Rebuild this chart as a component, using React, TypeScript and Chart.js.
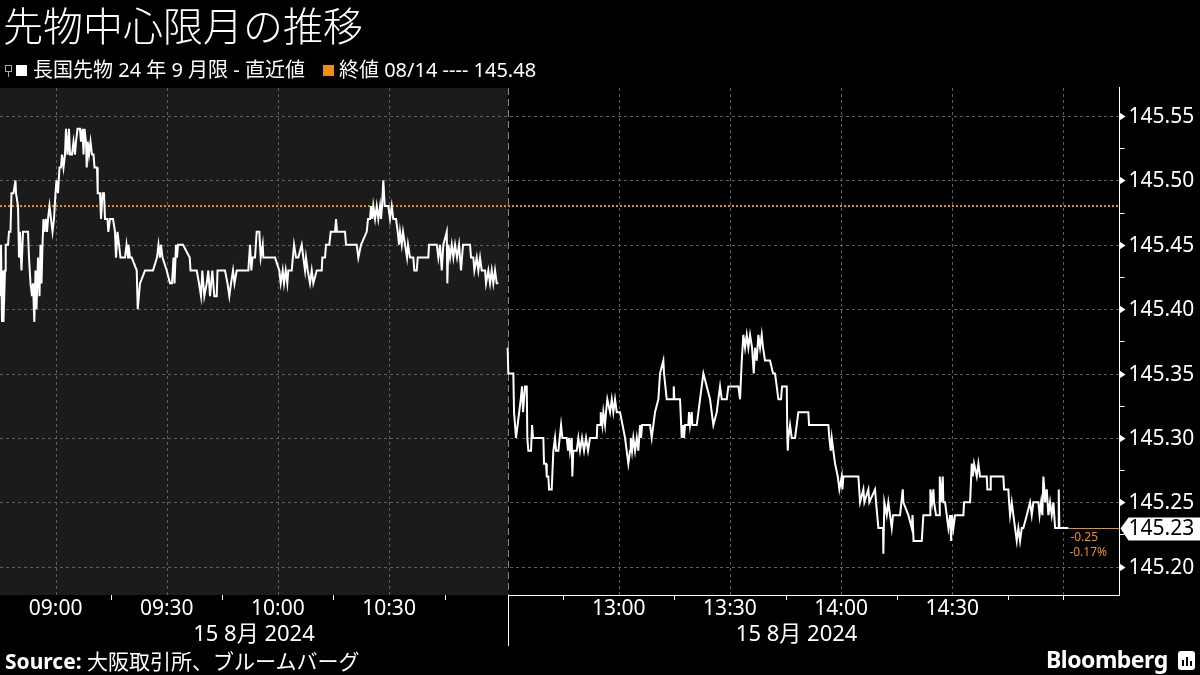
import React, { useEffect, useRef } from "react";
import { Chart, registerables } from "chart.js";

Chart.register(...registerables);

// ---- data ----
// morning session: minutes after 08:45 (session runs to 11:02)
const amMinutes = [
  0.0, 0.13, 0.27, 0.54, 0.81, 0.94, 1.35, 1.54, 2.16, 2.43, 2.83, 3.1, 3.64, 4.18, 4.32, 4.86, 5.13, 5.4, 5.8, 6.21,
  7.56, 7.83, 8.23, 8.64, 8.91, 9.26, 9.58, 9.85, 10.26, 10.66, 10.93, 11.2, 11.47, 11.74, 12.01, 12.42, 12.69, 12.96,
  13.36, 13.76, 14.17, 14.57, 14.98, 15.25, 15.65, 16.06, 16.46, 16.73, 17.14, 17.54, 17.81, 18.22, 18.62, 18.89,
  19.43, 19.84, 20.24, 20.51, 20.92, 21.59, 21.86, 22.27, 22.54, 22.81, 23.21, 23.4, 23.67, 24.02, 24.43, 24.83,
  25.24, 25.51, 26.18, 26.37, 26.99, 27.26, 27.67, 28.07, 28.34, 29.01, 29.23, 29.69, 30.5, 31.04, 31.31, 31.71,
  32.12, 32.52, 33.74, 34.14, 34.55, 34.68, 35.09, 35.55, 36.9, 37.17, 37.79, 39.14, 41.29, 42.37, 42.78, 43.18,
  43.45, 43.86, 44.99, 45.88, 46.42, 46.83, 47.1, 47.5, 47.77, 48.04, 49.39, 51.2, 51.42, 53.09, 53.71, 54.25, 54.6,
  55.14, 55.79, 56.22, 56.68, 57.3, 57.84, 58.49, 58.7, 60.73, 61.4, 61.89, 62.35, 62.89, 63.29, 63.89, 67.02, 67.48,
  67.83, 68.15, 68.82, 69.28, 69.99, 70.36, 70.9, 71.07, 74.22, 75.38, 75.76, 76.3, 76.65, 77.11, 77.54, 77.81, 78.73,
  79.35, 79.89, 80.51, 81.43, 81.86, 82.32, 82.59, 83.05, 83.67, 84.13, 84.56, 85.48, 86.83, 86.99, 87.72, 87.99,
  88.88, 89.26, 90.42, 90.69, 90.96, 93.12, 93.39, 96.27, 96.71, 97.43, 98.97, 99.32, 99.87, 100.13, 100.49, 100.75,
  101.22, 101.67, 102.1, 102.57, 102.83, 103.1, 103.45, 103.83, 104.8, 105.26, 105.72, 106.15, 106.88, 107.34,
  107.69, 107.96, 108.42, 108.77, 109.31, 109.85, 110.12, 110.66, 111.55, 111.82, 112.47, 112.74, 115.6, 115.79,
  117.87, 118.3, 118.76, 119.22, 119.65, 120.57, 120.73, 121.0, 121.46, 121.92, 122.35, 122.81, 123.35, 123.89,
  124.42, 124.96, 126.86, 127.12, 127.75, 128.02, 128.66, 129.1, 129.56, 130.01, 130.91, 131.17, 131.79, 132.26,
  132.71, 133.14, 133.6, 134.06, 134.49,
];
const amPrices = [
  145.44, 145.41, 145.45, 145.39, 145.43, 145.39, 145.43, 145.45, 145.45, 145.46, 145.46, 145.49, 145.49, 145.5,
  145.49, 145.48, 145.44, 145.46, 145.43, 145.46, 145.46, 145.44, 145.42, 145.41, 145.42, 145.39, 145.43, 145.4,
  145.44, 145.41, 145.45, 145.42, 145.45, 145.47, 145.46, 145.47, 145.46, 145.47, 145.48, 145.47, 145.46, 145.47,
  145.49, 145.5, 145.49, 145.51, 145.51, 145.52, 145.51, 145.52, 145.54, 145.52, 145.54, 145.52, 145.52, 145.53,
  145.52, 145.53, 145.54, 145.54, 145.53, 145.54, 145.52, 145.54, 145.53, 145.51, 145.53, 145.52, 145.53, 145.52,
  145.52, 145.51, 145.51, 145.49, 145.49, 145.47, 145.49, 145.49, 145.47, 145.47, 145.46, 145.47, 145.47, 145.46,
  145.44, 145.46, 145.45, 145.44, 145.44, 145.45, 145.44, 145.45, 145.44, 145.44, 145.43, 145.4, 145.42, 145.43,
  145.43, 145.44, 145.45, 145.44, 145.45, 145.44, 145.43, 145.42, 145.42, 145.44, 145.42, 145.45, 145.44, 145.45,
  145.45, 145.44, 145.43, 145.43, 145.42, 145.41, 145.43, 145.41, 145.42, 145.43, 145.41, 145.43, 145.41, 145.41,
  145.43, 145.43, 145.42, 145.41, 145.42, 145.43, 145.42, 145.43, 145.43, 145.45, 145.43, 145.44, 145.44, 145.46,
  145.46, 145.44, 145.45, 145.44, 145.44, 145.43, 145.42, 145.43, 145.42, 145.43, 145.42, 145.43, 145.43, 145.45,
  145.44, 145.44, 145.45, 145.44, 145.43, 145.44, 145.43, 145.42, 145.43, 145.42, 145.43, 145.43, 145.44, 145.44,
  145.45, 145.45, 145.46, 145.46, 145.47, 145.46, 145.46, 145.45, 145.45, 145.44, 145.45, 145.46, 145.47, 145.47,
  145.48, 145.47, 145.48, 145.47, 145.48, 145.47, 145.48, 145.47, 145.48, 145.5, 145.48, 145.48, 145.47, 145.48,
  145.47, 145.47, 145.46, 145.45, 145.46, 145.45, 145.46, 145.45, 145.44, 145.45, 145.44, 145.44, 145.43, 145.43,
  145.44, 145.44, 145.45, 145.45, 145.44, 145.45, 145.43, 145.45, 145.46, 145.42, 145.45, 145.44, 145.45, 145.44,
  145.45, 145.44, 145.45, 145.43, 145.45, 145.45, 145.44, 145.44, 145.43, 145.44, 145.43, 145.44, 145.43, 145.43,
  145.42, 145.43, 145.42, 145.43, 145.42, 145.43, 145.42, 145.42,
];
// afternoon session: minutes after 12:30 (session runs to 15:02)
const pmMinutes = [
  0.0, 0.19, 1.54, 1.73, 2.27, 3.54, 3.89, 4.16, 4.7, 5.16, 5.32, 5.59, 6.32, 6.59, 6.86, 9.64, 9.83, 10.37, 10.56,
  10.99, 11.18, 11.9, 12.34, 12.79, 13.06, 13.69, 14.42, 14.77, 15.95, 16.3, 16.57, 16.84, 17.3, 17.46, 17.73, 18.65,
  19.09, 19.54, 20.08, 20.62, 21.16, 21.7, 22.24, 24.05, 24.21, 24.94, 25.13, 25.56, 25.83, 26.29, 26.56, 26.91,
  27.64, 28.1, 28.53, 28.99, 29.45, 30.34, 31.69, 32.58, 33.04, 33.23, 33.58, 33.93, 34.39, 34.85, 35.28, 35.74,
  36.01, 36.28, 38.44, 38.89, 39.78, 40.68, 41.13, 42.03, 42.21, 42.94, 44.73, 44.83, 45.0, 46.53, 46.99, 47.34,
  47.61, 47.88, 48.77, 48.96, 49.23, 49.69, 49.85, 51.04, 51.93, 52.83, 53.74, 54.63, 55.52, 56.44, 56.87, 57.33,
  57.79, 59.14, 59.57, 62.27, 62.73, 63.19, 63.62, 64.08, 64.53, 64.97, 65.43, 65.97, 66.42, 66.78, 67.23, 67.67,
  68.13, 68.58, 68.93, 69.47, 70.82, 71.63, 72.17, 72.63, 73.06, 73.79, 74.06, 75.33, 75.49, 75.6, 75.76, 76.22,
  76.68, 77.57, 78.46, 81.16, 81.35, 86.56, 86.83, 87.21, 87.48, 87.91, 88.37, 89.1, 89.53, 90.17, 90.34, 90.61,
  94.66, 95.12, 96.01, 96.28, 97.36, 97.62, 99.16, 99.43, 100.06, 101.32, 101.4, 101.67, 102.32, 102.75, 103.21,
  103.67, 104.02, 105.91, 106.64, 106.8, 108.15, 109.07, 109.28, 109.55, 111.77, 112.2, 114.01, 114.09, 114.55,
  114.9, 115.09, 115.63, 116.44, 116.63, 116.97, 117.43, 117.6, 118.06, 118.95, 119.41, 119.68, 119.95, 120.3,
  120.76, 123.0, 123.19, 124.81, 125.26, 125.53, 125.88, 126.61, 127.05, 127.5, 129.31, 129.47, 130.2, 130.39,
  133.79, 133.98, 135.14, 135.33, 135.6, 136.06, 136.49, 136.95, 137.41, 137.84, 138.3, 138.76, 139.19, 140.11,
  141.0, 141.45, 141.89, 143.24, 143.56, 143.97, 144.32, 144.59, 144.86, 145.05, 145.51, 145.94, 146.4, 146.85,
  147.29, 147.75, 148.64, 148.74, 148.91, 151.34,
];
const pmPrices = [
  145.37, 145.35, 145.35, 145.32, 145.3, 145.33, 145.34, 145.32, 145.34, 145.34, 145.3, 145.29, 145.29, 145.31,
  145.3, 145.3, 145.28, 145.28, 145.27, 145.27, 145.26, 145.26, 145.29, 145.3, 145.29, 145.29, 145.31, 145.3,
  145.3, 145.29, 145.3, 145.29, 145.3, 145.27, 145.29, 145.29, 145.3, 145.29, 145.3, 145.29, 145.3, 145.29, 145.3,
  145.3, 145.31, 145.31, 145.32, 145.31, 145.32, 145.31, 145.32, 145.33, 145.32, 145.33, 145.32, 145.33, 145.32,
  145.32, 145.3, 145.28, 145.29, 145.3, 145.29, 145.3, 145.29, 145.3, 145.29, 145.31, 145.3, 145.31, 145.31,
  145.3, 145.32, 145.33, 145.35, 145.36, 145.35, 145.33, 145.33, 145.34, 145.33, 145.33, 145.3, 145.31, 145.3,
  145.31, 145.31, 145.32, 145.31, 145.32, 145.31, 145.31, 145.33, 145.35, 145.34, 145.33, 145.31, 145.32, 145.33,
  145.34, 145.33, 145.33, 145.34, 145.34, 145.33, 145.36, 145.38, 145.37, 145.38, 145.37, 145.38, 145.37, 145.35,
  145.37, 145.36, 145.38, 145.37, 145.38, 145.37, 145.36, 145.36, 145.35, 145.35, 145.34, 145.33, 145.33, 145.34,
  145.34, 145.3, 145.29, 145.3, 145.31, 145.3, 145.3, 145.32, 145.32, 145.31, 145.31, 145.3, 145.29, 145.3, 145.29,
  145.28, 145.27, 145.26, 145.27, 145.26, 145.27, 145.27, 145.25, 145.26, 145.25, 145.26, 145.25, 145.26, 145.25,
  145.23, 145.23, 145.21, 145.25, 145.24, 145.25, 145.24, 145.23, 145.24, 145.24, 145.26, 145.25, 145.24, 145.23,
  145.24, 145.22, 145.22, 145.24, 145.24, 145.26, 145.25, 145.26, 145.25, 145.24, 145.24, 145.27, 145.25, 145.27,
  145.25, 145.25, 145.23, 145.24, 145.22, 145.24, 145.23, 145.24, 145.24, 145.25, 145.25, 145.28, 145.27, 145.28,
  145.27, 145.28, 145.27, 145.27, 145.26, 145.26, 145.27, 145.27, 145.26, 145.26, 145.25, 145.24, 145.25, 145.24,
  145.23, 145.22, 145.23, 145.22, 145.23, 145.23, 145.24, 145.25, 145.24, 145.25, 145.25, 145.24, 145.25, 145.24,
  145.27, 145.26, 145.25, 145.26, 145.24, 145.25, 145.24, 145.25, 145.23, 145.23, 145.26, 145.23, 145.23,
];

const prevClose = 145.48;
const lastPrice = 145.23;
const changeText = "-0.25";
const changePctText = "-0.17%";

const yTicks = [145.2, 145.25, 145.3, 145.35, 145.4, 145.45, 145.5, 145.55];
const yMin = 145.178;
const yMax = 145.5717;

// compressed time axis: minutes after 08:45 with the lunch break removed
const morningLength = 137; // 08:45–11:02, afternoon starts at 12:30
const xMaxMinutes = 302;
const xLabelMinutes = [15, 45, 75, 105, 167, 197, 227, 257];
const xLabels = ["09:00", "09:30", "10:00", "10:30", "13:00", "13:30", "14:00", "14:30"];
const xGridMinutes = [15, 45, 75, 105, 167, 197, 227, 257, 287];
const xMinorTickMinutes = [30, 60, 90, 120, 152, 182, 212, 242, 272, 287];
const dateLabel = "15 8月 2024";

const ORANGE = "#f0900a";
const FONT = '"Noto Sans", "Noto Sans CJK JP", sans-serif';

const decorPlugin = {
  id: "decor",
  beforeDraw(chart: any) {
    const { ctx, chartArea: a, scales } = chart;
    const x = scales.x;
    const y = scales.y;
    ctx.save();
    ctx.fillStyle = "#000";
    ctx.fillRect(0, 0, chart.width, chart.height);
    const sep = Math.round(x.getPixelForValue(morningLength));
    ctx.fillStyle = "#1b1b1b";
    ctx.fillRect(a.left, a.top, sep - a.left, a.bottom - a.top);

    ctx.strokeStyle = "#5e5e5e";
    ctx.lineWidth = 1;
    ctx.setLineDash([3, 3]);
    yTicks.forEach((v) => {
      const py = Math.round(y.getPixelForValue(v)) + 0.5;
      ctx.beginPath();
      ctx.moveTo(a.left, py);
      ctx.lineTo(a.right, py);
      ctx.stroke();
    });
    xGridMinutes.forEach((m) => {
      const px = Math.round(x.getPixelForValue(m)) + 0.5;
      ctx.beginPath();
      ctx.moveTo(px, a.top);
      ctx.lineTo(px, a.bottom);
      ctx.stroke();
    });
    // session separator
    ctx.strokeStyle = "#8a8a8a";
    ctx.setLineDash([7, 4]);
    ctx.beginPath();
    ctx.moveTo(sep + 0.5, a.top);
    ctx.lineTo(sep + 0.5, a.bottom);
    ctx.stroke();
    ctx.restore();
  },
  afterDraw(chart: any) {
    const { ctx, chartArea: a, scales } = chart;
    const x = scales.x;
    const y = scales.y;
    ctx.save();
    const ax = Math.round(a.right) + 0.5;
    const sep = Math.round(x.getPixelForValue(morningLength));

    // last value connector
    const lastX = x.getPixelForValue(morningLength + pmMinutes[pmMinutes.length - 1]);
    const ly = Math.round(y.getPixelForValue(lastPrice)) + 0.5;
    ctx.strokeStyle = ORANGE;
    ctx.lineWidth = 1;
    ctx.beginPath();
    ctx.moveTo(lastX, ly);
    ctx.lineTo(ax, ly);
    ctx.stroke();
    ctx.fillStyle = ORANGE;
    ctx.font = `12px ${FONT}`;
    ctx.textBaseline = "middle";
    ctx.textAlign = "left";
    ctx.fillText(changeText, lastX + 2, ly + 9);
    ctx.fillText(changePctText, lastX + 1, ly + 24);

    // axis lines
    ctx.strokeStyle = "#ffffff";
    ctx.lineWidth = 1;
    ctx.beginPath();
    ctx.moveTo(ax, a.top - 1);
    ctx.lineTo(ax, a.bottom + 0.5);
    ctx.stroke();
    ctx.beginPath();
    ctx.moveTo(sep, Math.round(a.bottom) + 0.5);
    ctx.lineTo(ax, Math.round(a.bottom) + 0.5);
    ctx.stroke();

    // y ticks and labels
    ctx.fillStyle = "#ffffff";
    ctx.font = `21px ${FONT}`;
    ctx.textAlign = "left";
    ctx.textBaseline = "middle";
    yTicks.forEach((v) => {
      const py = Math.round(y.getPixelForValue(v)) + 0.5;
      ctx.beginPath();
      ctx.moveTo(ax, py - 4);
      ctx.lineTo(ax + 6, py);
      ctx.lineTo(ax, py + 4);
      ctx.closePath();
      ctx.fill();
      ctx.fillText(v.toFixed(2), ax + 9, py + 1);
    });
    for (let i = 0; i < yTicks.length; i++) {
      const v = yTicks[i] + 0.025;
      if (v > yMax) continue;
      const py = Math.round(y.getPixelForValue(v)) + 0.5;
      ctx.beginPath();
      ctx.moveTo(ax, py);
      ctx.lineTo(ax + 5, py);
      ctx.stroke();
    }

    // last price box
    const bx = ax + 1;
    ctx.fillStyle = "#ffffff";
    ctx.beginPath();
    ctx.moveTo(bx, ly);
    ctx.lineTo(bx + 8, ly - 11);
    ctx.lineTo(chart.width, ly - 11);
    ctx.lineTo(chart.width, ly + 12);
    ctx.lineTo(bx + 8, ly + 12);
    ctx.closePath();
    ctx.fill();
    ctx.fillStyle = "#000";
    ctx.fillText(lastPrice.toFixed(2), ax + 9, ly + 1);

    // x ticks and labels
    ctx.strokeStyle = "#ffffff";
    const by = Math.round(a.bottom);
    xMinorTickMinutes.forEach((m) => {
      const px = Math.round(x.getPixelForValue(m)) + 0.5;
      ctx.beginPath();
      ctx.moveTo(px, by);
      ctx.lineTo(px, by + 5);
      ctx.stroke();
    });
    ctx.fillStyle = "#ffffff";
    ctx.font = `21px ${FONT}`;
    ctx.textAlign = "center";
    xLabelMinutes.forEach((m, i) => {
      ctx.fillText(xLabels[i], x.getPixelForValue(m), by + 14);
    });
    ctx.font = `22px ${FONT}`;
    ctx.fillText(dateLabel, (a.left + sep) / 2, by + 40);
    ctx.fillText(dateLabel, x.getPixelForValue(morningLength + 78), by + 40);
    // separator below the axis
    ctx.beginPath();
    ctx.moveTo(sep + 0.5, by);
    ctx.lineTo(sep + 0.5, by + 51);
    ctx.stroke();
    ctx.restore();
  },
};

export default function App() {
  const ref = useRef<HTMLCanvasElement | null>(null);
  useEffect(() => {
    if (!ref.current) return;
    const am = amMinutes.map((m, i) => ({ x: m, y: amPrices[i] }));
    const pm = pmMinutes.map((m, i) => ({ x: morningLength + m, y: pmPrices[i] }));
    const chart = new Chart(ref.current, {
      type: "line",
      data: {
        datasets: [
          {
            data: [
              { x: 0, y: prevClose },
              { x: xMaxMinutes, y: prevClose },
            ],
            borderColor: ORANGE,
            borderWidth: 2,
            borderDash: [2, 2],
            pointRadius: 0,
            order: 3,
          },
          { data: am, borderColor: "#ffffff", borderWidth: 2, pointRadius: 0, tension: 0, order: 1 },
          { data: pm, borderColor: "#ffffff", borderWidth: 2, pointRadius: 0, tension: 0, order: 1 },
        ],
      },
      options: {
        responsive: false,
        maintainAspectRatio: false,
        animation: false,
        events: [],
        layout: { padding: { left: 0, right: 81, top: 88, bottom: 80 } },
        scales: {
          x: { type: "linear", min: 0, max: xMaxMinutes, display: false },
          y: { type: "linear", min: yMin, max: yMax, display: false },
        },
        plugins: { legend: { display: false }, tooltip: { enabled: false }, title: { display: false } },
      },
      plugins: [decorPlugin],
    } as any);
    return () => chart.destroy();
  }, []);

  return (
    <div
      style={{
        position: "relative",
        width: 1200,
        height: 675,
        background: "#000",
        overflow: "hidden",
        fontFamily: FONT,
        color: "#fff",
      }}
    >
      <style>{"html,body{margin:0;padding:0;background:#000;}"}</style>
      <canvas ref={ref} width={1200} height={675} style={{ position: "absolute", left: 0, top: 0 }} />
      <div
        style={{
          position: "absolute",
          left: 3,
          top: 1,
          fontSize: 40,
          fontWeight: 300,
          lineHeight: "50px",
          whiteSpace: "nowrap",
        }}
      >
        先物中心限月の推移
      </div>
      <div
        style={{
          position: "absolute",
          left: 5,
          top: 58,
          fontSize: 20,
          lineHeight: "24px",
          display: "flex",
          alignItems: "center",
          whiteSpace: "nowrap",
        }}
      >
        <span style={{ position: "relative", width: 8, height: 14, marginRight: 3, display: "inline-block" }}>
          <span style={{ position: "absolute", left: 0, top: 2, width: 5, height: 5, border: "1px solid #aaa" }} />
          <span style={{ position: "absolute", left: 3, top: 8, width: 1, height: 6, background: "#aaa" }} />
        </span>
        <span style={{ width: 11, height: 11, background: "#fff", display: "inline-block", marginRight: 6 }} />
        <span>長国先物 24 年 9 月限 - 直近値</span>
        <span
          style={{ width: 11, height: 11, background: ORANGE, display: "inline-block", marginLeft: 18, marginRight: 5 }}
        />
        <span>終値 08/14 ---- 145.48</span>
      </div>
      <div style={{ position: "absolute", left: 5, top: 647, fontSize: 21, lineHeight: "28px", whiteSpace: "nowrap" }}>
        <b>Source:</b> 大阪取引所、ブルームバーグ
      </div>
      <div
        style={{
          position: "absolute",
          left: 1046,
          top: 644,
          fontSize: 23,
          fontWeight: 700,
          lineHeight: "30px",
          whiteSpace: "nowrap",
          letterSpacing: -0.5,
        }}
      >
        Bloomberg
      </div>
      <div
        style={{
          position: "absolute",
          left: 1178,
          top: 651,
          width: 17,
          height: 19,
          background: "#fff",
          borderRadius: 3,
        }}
      >
        <div style={{ position: "absolute", left: 4, top: 9, width: 2, height: 6, background: "#000" }} />
        <div style={{ position: "absolute", left: 8, top: 6, width: 2, height: 9, background: "#000" }} />
        <div style={{ position: "absolute", left: 12, top: 10, width: 2, height: 5, background: "#000" }} />
      </div>
    </div>
  );
}
